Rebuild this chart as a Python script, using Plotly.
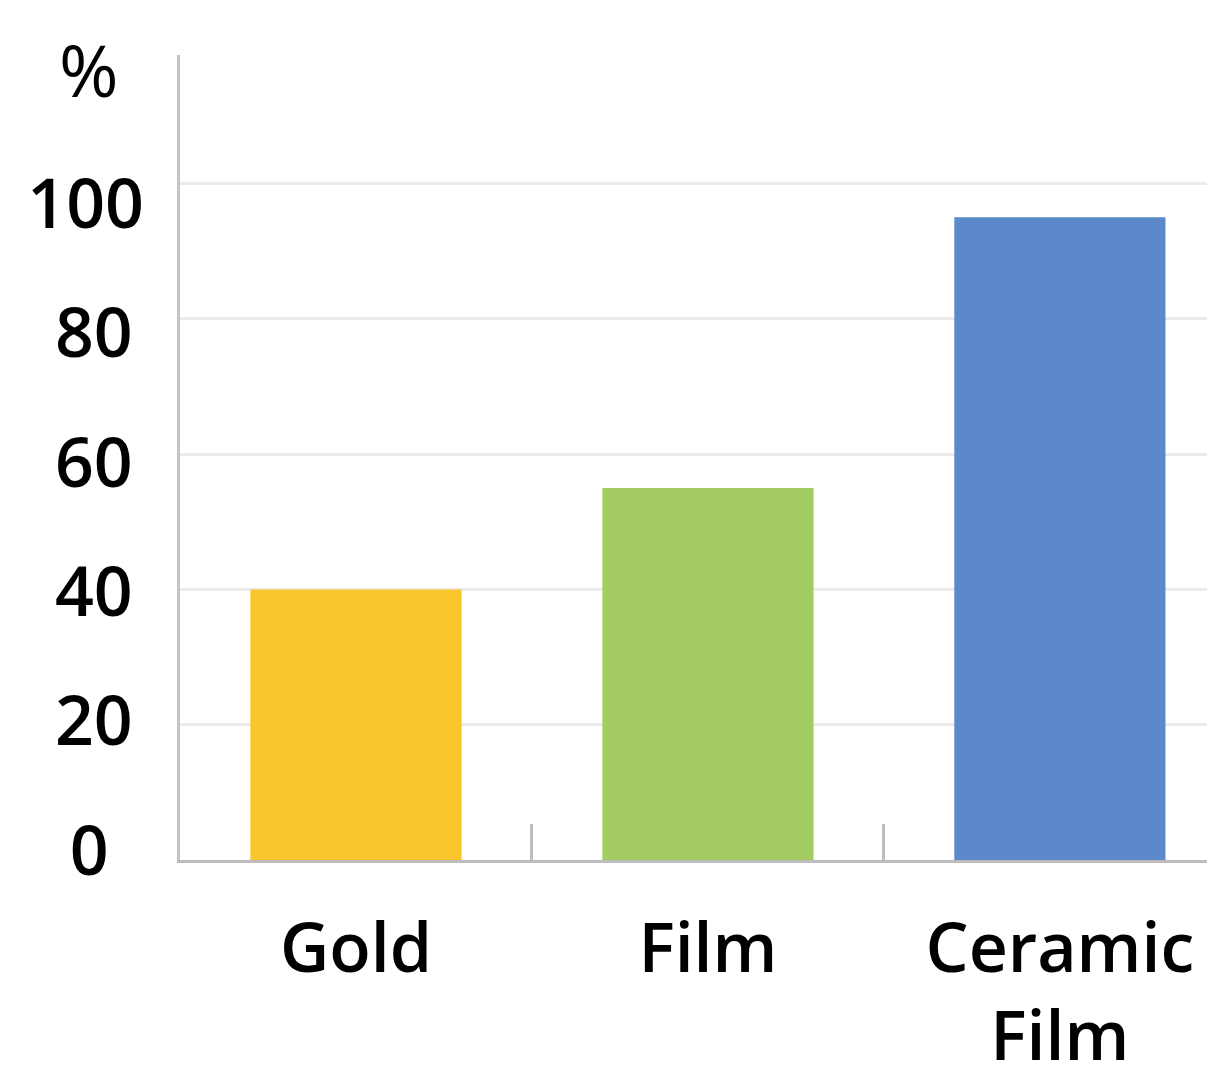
import plotly.graph_objects as go

categories = ["Gold", "Film", "Ceramic<br>Film"]
values = [40, 55, 95]
colors = ["#FBC52C", "#A3CD62", "#5B89CA"]
y_ticks = [0, 20, 40, 60, 80, 100]
y_tick_labels = ["0\u00a0\u00a0", "20\u2009", "40\u2009", "60\u2009", "80\u2009", "100"]

FONT = "Open Sans"

fig = go.Figure()
fig.add_trace(
    go.Bar(
        x=categories,
        y=values,
        marker=dict(color=colors, line=dict(width=0)),
        width=0.6,
        hoverinfo="skip",
    )
)
# invisible trace to carry the label axis
fig.add_trace(
    go.Scatter(x=categories, y=values, yaxis="y2", mode="none", hoverinfo="skip")
)

fig.update_layout(
    width=1207,
    height=1066,
    margin=dict(l=180, r=0, t=55, b=206, autoexpand=False),
    paper_bgcolor="white",
    plot_bgcolor="white",
    showlegend=False,
    font=dict(family=FONT, color="black"),
    xaxis=dict(
        automargin=False,
        range=[-0.5, 2.418],
        showline=True,
        linecolor="#bdbdbd",
        linewidth=3,
        ticks="inside",
        tickson="boundaries",
        ticklen=36,
        tickwidth=3,
        tickcolor="#bdbdbd",
        showgrid=False,
        tickfont=dict(family=FONT, size=68, color="black", weight=600),
        ticklabelstandoff=27,
    ),
    yaxis=dict(
        automargin=False,
        range=[0, 119],
        tickvals=y_ticks,
        showticklabels=False,
        showline=True,
        linecolor="#c4c4c4",
        linewidth=3,
        showgrid=True,
        gridcolor="#ebebeb",
        gridwidth=3,
        zeroline=False,
        ticks="",
    ),
    yaxis2=dict(
        automargin=False,
        overlaying="y",
        side="left",
        range=[-1.39, 123.0],
        tickvals=y_ticks,
        ticktext=y_tick_labels,
        showgrid=False,
        zeroline=False,
        showline=False,
        ticks="",
        tickfont=dict(family=FONT, size=68, color="black", weight=600),
        ticklabelstandoff=35,
    ),
)

fig.add_annotation(
    text="%",
    xref="paper",
    yref="paper",
    x=-0.0886,
    y=0.983,
    xanchor="center",
    yanchor="middle",
    showarrow=False,
    font=dict(family=FONT, size=72, color="black"),
)

fig.write_html(
    "out.html",
    config={"displayModeBar": False, "staticPlot": True},
    post_script=(
        "document.documentElement.style.overflow='hidden';"
        "document.body.style.margin='0';document.body.style.overflow='hidden';"
        "var d=document.getElementById('{plot_id}');d.style.overflow='hidden';"
    ),
)
